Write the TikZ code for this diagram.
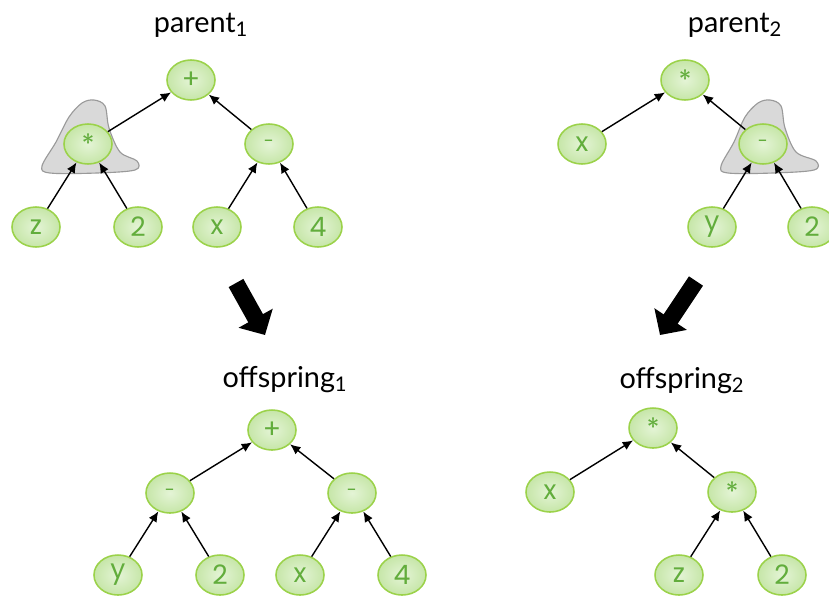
\documentclass[tikz,border=0pt]{standalone}
\usepackage{fontspec}
\setmainfont{Lato}
\newfontfamily\leaffont{Poppins}
\usepackage{tikz}
\usetikzlibrary{shapes,arrows,positioning,calc,arrows.meta}

\definecolor{leafgreen}{HTML}{9BD24A}
\definecolor{leaftext}{HTML}{62AD3C}
\definecolor{leafin}{HTML}{E4F4D6}
\definecolor{leafout}{HTML}{C6E6A8}
\definecolor{blobfill}{HTML}{D9D9D9}
\definecolor{blobline}{HTML}{9A9A9A}

\newcommand{\opminus}{{\fontsize{13}{14}\selectfont -}}

\tikzset{
  gnode/.style={ellipse, draw=leafgreen, line width=1.1pt, shading=radial, inner color=leafin, outer color=leafout,
    minimum width=1.2cm, minimum height=1cm, inner sep=0pt, text=leaftext, font=\leaffont\fontsize{19}{20}\selectfont},
  treelabel/.style={anchor=base, font=\fontsize{20.5}{22}\selectfont},
  edge/.style={-{Latex[length=2.6mm, width=2.3mm]}, line width=1pt},
  bigarrow/.style={line width=0.42cm, -{Triangle[width=0.95cm, length=0.48cm]}},
  blob/.style={fill=blobfill, draw=blobline, line width=0.8pt}
}

\begin{document}
\begin{tikzpicture}[x=0.025cm, y=-0.025cm]
    \useasboundingbox (0,0) rectangle (829,595);

    % selected subtrees
    \draw [blob, shift={(88,144)}] plot [smooth cycle, tension=0.55] coordinates {(6,-44) (17,-38) (21,-16) (32,8) (49,17) (47,26) (9,29) (-38,29) (-46,22) (-32,-2) (-19,-27) (-6,-41)};
    \draw [blob, shift={(764,144)}] plot [smooth cycle, tension=0.55] coordinates {(6,-44) (17,-38) (21,-16) (32,8) (52,17) (50,26) (9,29) (-36,29) (-43,22) (-30,-2) (-19,-27) (-6,-41)};

    % parent 1
    \node [treelabel] (lbl_p1) at (201,32) {parent\textsubscript{1}};
    \node [gnode] (p1_plus) at (191,80) {+};
    \node [gnode] (p1_mul) at (88,144) {*};
    \node [gnode] (p1_sub) at (269,144) {\opminus};
    \node [gnode] (p1_z) at (36,227) {z};
    \node [gnode] (p1_2) at (138,227) {2};
    \node [gnode] (p1_x) at (217,227) {x};
    \node [gnode] (p1_4) at (318,227) {4};

    \draw [edge] (p1_mul) -- (p1_plus);
    \draw [edge] (p1_sub) -- (p1_plus);
    \draw [edge] (p1_z) -- (p1_mul);
    \draw [edge] (p1_2) -- (p1_mul);
    \draw [edge] (p1_x) -- (p1_sub);
    \draw [edge] (p1_4) -- (p1_sub);

    % parent 2
    \node [treelabel] (lbl_p2) at (735,32) {parent\textsubscript{2}};
    \node [gnode] (p2_mul) at (685,80) {*};
    \node [gnode] (p2_x) at (582,144) {x};
    \node [gnode] (p2_sub) at (763,144) {\opminus};
    \node [gnode] (p2_y) at (712,227) {y};
    \node [gnode] (p2_2) at (812,227) {2};

    \draw [edge] (p2_x) -- (p2_mul);
    \draw [edge] (p2_sub) -- (p2_mul);
    \draw [edge] (p2_y) -- (p2_sub);
    \draw [edge] (p2_2) -- (p2_sub);

    % crossover arrows
    \coordinate (left_from) at (236,283);
    \coordinate (left_to) at (265,335);
    \coordinate (right_from) at (696,281);
    \coordinate (right_to) at (660,335);
    \draw [bigarrow] (left_from) -- (left_to);
    \draw [bigarrow] (right_from) -- (right_to);

    % offspring 1
    \node [treelabel] (lbl_o1) at (285,387) {offspring\textsubscript{1}};
    \node [gnode] (o1_plus) at (272,430) {+};
    \node [gnode] (o1_subl) at (170,493) {\opminus};
    \node [gnode] (o1_subr) at (352,493) {\opminus};
    \node [gnode] (o1_y) at (118,575) {y};
    \node [gnode] (o1_2) at (220,575) {2};
    \node [gnode] (o1_x) at (300,575) {x};
    \node [gnode] (o1_4) at (402,575) {4};

    \draw [edge] (o1_subl) -- (o1_plus);
    \draw [edge] (o1_subr) -- (o1_plus);
    \draw [edge] (o1_y) -- (o1_subl);
    \draw [edge] (o1_2) -- (o1_subl);
    \draw [edge] (o1_x) -- (o1_subr);
    \draw [edge] (o1_4) -- (o1_subr);

    % offspring 2
    \node [treelabel] (lbl_o2) at (682,388) {offspring\textsubscript{2}};
    \node [gnode] (o2_mul) at (653,428) {*};
    \node [gnode] (o2_x) at (550,492) {x};
    \node [gnode] (o2_mul2) at (732,492) {*};
    \node [gnode] (o2_z) at (679,575) {z};
    \node [gnode] (o2_2) at (782,575) {2};

    \draw [edge] (o2_x) -- (o2_mul);
    \draw [edge] (o2_mul2) -- (o2_mul);
    \draw [edge] (o2_z) -- (o2_mul2);
    \draw [edge] (o2_2) -- (o2_mul2);
\end{tikzpicture}
\end{document}
